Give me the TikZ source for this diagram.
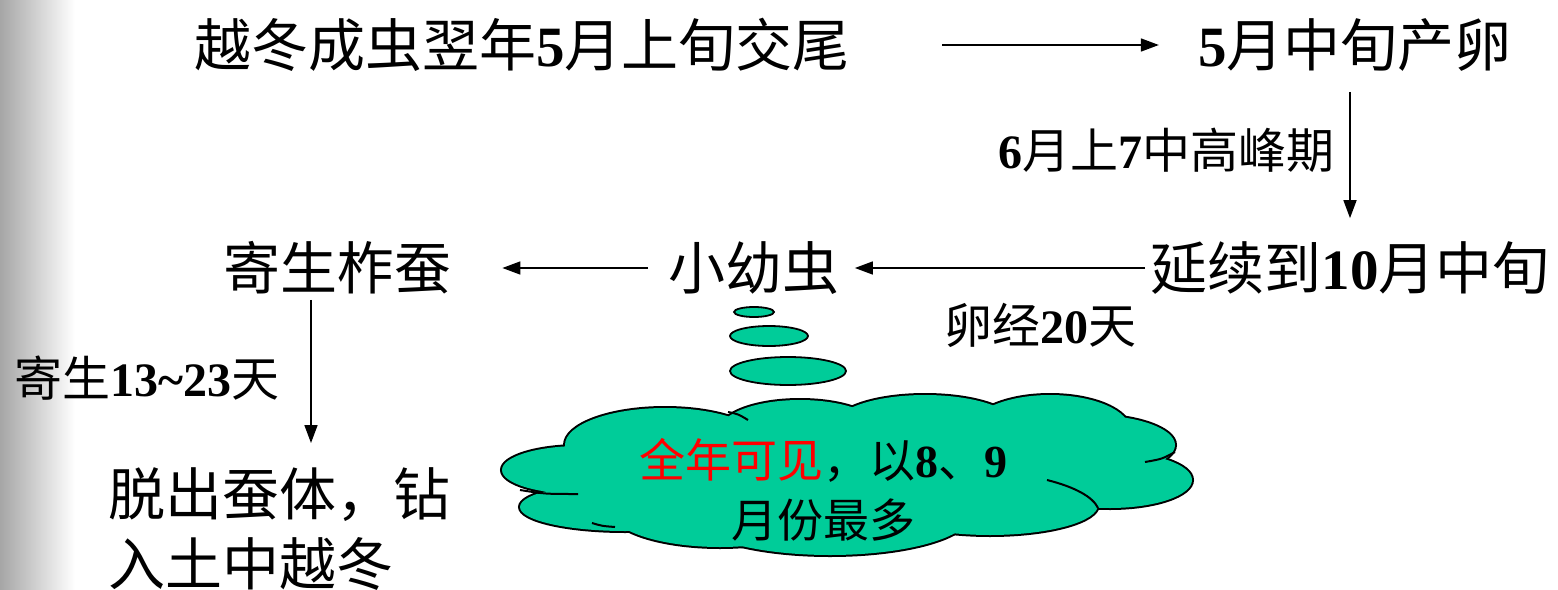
\documentclass[tikz,border=0pt]{standalone}
\usepackage{fontspec}
\setmainfont{Noto Sans CJK SC}
\newfontfamily\tnr{Liberation Serif}
\usetikzlibrary{positioning,arrows.meta}
\newcommand{\nm}[1]{{\tnr\bfseries #1}}
\definecolor{cloudgreen}{RGB}{0,204,153}
\tikzset{
  stage/.style={inner sep=0pt, font=\fontsize{28.5}{35}\selectfont},
  note/.style={inner sep=0pt, font=\fontsize{24}{28}\selectfont},
  flow/.style={-{Triangle[length=9pt,width=6.5pt]}, line width=0.8pt},
  bubble/.style={draw=black, line width=0.9pt, fill=cloudgreen},
}

\begin{document}
\begin{tikzpicture}[x=0.5pt,y=-0.5pt]
\useasboundingbox (0,0) rectangle (1558,589);
\shade[left color=black!35,right color=white] (0,0) rectangle (75,589);
% top row
\node[stage] (overwinter) at (522,45) {越冬成虫翌年\nm{5}月上旬交尾};
\node[stage] (lay) at (1355,45) {\nm{5}月中旬产卵};
% middle row
\node[stage] (extend) at (1350,268) {延续到\nm{10}月中旬};
\node[stage] (larva) at (754,268) {小幼虫};
\node[stage] (host) at (337,268) {寄生柞蚕};
\node[stage, align=left, anchor=north west] (escape) at (108,467) {脱出蚕体，钻\\入土中越冬};
% labels
\node[note, anchor=east] (peak) at (1335,150) {\nm{6}月上\nm{7}中高峰期};
\node[note] (eggtime) at (1040,325) {卵经\nm{20}天};
\node[note, anchor=west] (parasite) at (14,378) {寄生\nm{13\textasciitilde23}天};
% arrows
\draw[flow, shorten <=46pt, shorten >=19.5pt] (overwinter) -- (lay);
\draw[flow, shorten <=10pt, shorten >=11.5pt] ([xshift=-2.5pt]lay.south) -- ([xshift=-2.5pt]lay.south |- extend.north);
\draw[flow, shorten <=2.5pt, shorten >=7.5pt] (extend) -- (larva);
\draw[flow, shorten <=10pt, shorten >=25.5pt] (larva) -- (host);
\draw[flow, shorten <=2.5pt, shorten >=12pt] ([xshift=-13pt]host.south) -- ([xshift=-13pt]host.south |- escape.north);
% thought bubbles
\draw[bubble] (754,312) ellipse [x radius=10pt, y radius=2.5pt];
\draw[bubble] (769,336) ellipse [x radius=19.5pt, y radius=5pt];
\draw[bubble] (788,371) ellipse [x radius=29pt, y radius=7pt];
% cloud: outline first, then fill over it
\def\puffs{580/470/78/24, 625/507/105/24, 665/445/100/37, 800/430/80/30,
  925/425/90/30, 1050/430/80/35, 1090/445/85/30, 1110/480/82/28,
  990/505/108/30, 830/515/140/40, 720/510/110/37, 850/470/250/60}
\foreach \cx/\cy/\rx/\ry in \puffs
  \draw[line width=2pt] (\cx,\cy) ellipse [x radius=\rx, y radius=\ry];
\foreach \cx/\cy/\rx/\ry in \puffs
  \fill[cloudgreen] (\cx,\cy) ellipse [x radius=\rx, y radius=\ry];
% inner creases of the cloud
\draw[line width=1pt] (520,490) .. controls (545,494) .. (578,494);
\draw[line width=1pt] (592,523) .. controls (602,526) .. (615,527);
\draw[line width=1pt] (1145,462) .. controls (1162,459) .. (1175,452);
\draw[line width=1pt] (1047,480) .. controls (1075,487) and (1093,497) .. (1098,508);
\draw[line width=1pt] (728,412) .. controls (738,414) .. (748,420);
\node[note, font=\fontsize{23}{30}\selectfont, align=center] (cloudtext) at (823,490)
  {\textcolor{red}{全年可见}，以\nm{8}、\nm{9}\\月份最多};
\end{tikzpicture}
\end{document}
